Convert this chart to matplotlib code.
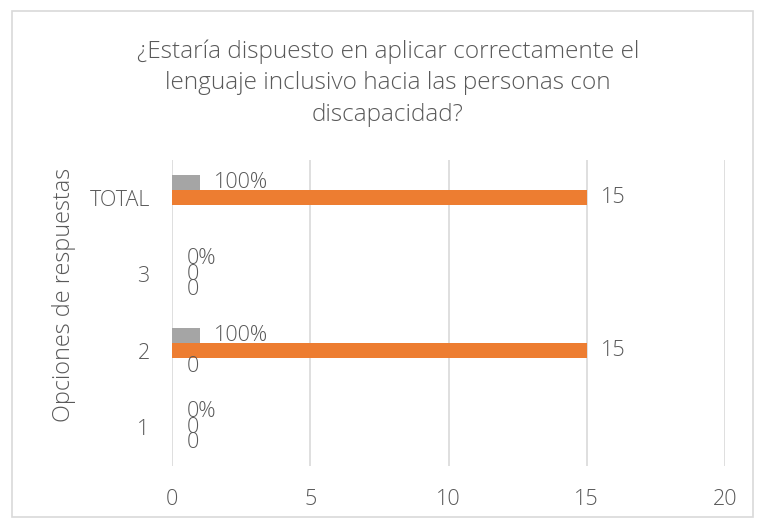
import matplotlib
matplotlib.use("Agg")
import matplotlib.pyplot as plt
from matplotlib.patches import Rectangle
import numpy as np

categories = ["1", "2", "3", "TOTAL"]
serie_base = [0, 0, 0, None]          # bottom series (all zero)
frecuencia = [0, 15, 0, 15]           # orange
porcentaje = [0, 1, 0, 1]             # gray (1 = 100%)
x_ticks = [0, 5, 10, 15, 20]

title = "¿Estaría dispuesto en aplicar correctamente el\nlenguaje inclusivo hacia las personas con\ndiscapacidad?"
ylabel = "Opciones de respuestas"

plt.rcParams['font.family'] = ['Open Sans', 'DejaVu Sans']
txt = "#595959"

W, H = 763, 520
fig = plt.figure(figsize=(W / 100, H / 100), dpi=100)
fig.patch.set_facecolor("white")

# chart border
fig.add_artist(Rectangle((12 / W, 1 - 517 / H), (753 - 12) / W, (517 - 11) / H,
                         transform=fig.transFigure, fill=False,
                         edgecolor="#D9D9D9", linewidth=1.2))

ax = fig.add_axes([172 / W, 1 - 465.5 / H, (725 - 172) / W, (465.5 - 159.5) / H])
ax.set_xlim(0, 20)
ax.set_ylim(-0.5, 3.5)

y = np.arange(len(categories))
h = 0.2
series = [
    (serie_base, -h, "#4472C4", "num"),
    (frecuencia, 0.0, "#ED7D31", "num"),
    (porcentaje, h, "#A5A5A5", "pct"),
]
for vals, off, col, kind in series:
    for yi, v in zip(y, vals):
        if v is None:
            continue
        ax.barh(yi + off, v, height=h, color=col, zorder=3)
        label = f"{v:.0%}" if kind == "pct" else f"{v:g}"
        ax.annotate(label, xy=(v, yi + off), xytext=(10.5, 0),
                    textcoords="offset points", ha="left", va="center",
                    fontsize=15.5, fontweight="light", color=txt, zorder=4)

ax.set_xticks(x_ticks)
ax.set_yticks(y)
ax.set_yticklabels(categories)
ax.grid(axis="x", color="#D9D9D9", linewidth=1.2, zorder=0)
ax.set_axisbelow(True)
for s in ax.spines.values():
    s.set_visible(False)
ax.tick_params(axis="both", length=0, labelsize=15.5, labelcolor=txt)
for lab in ax.get_xticklabels() + ax.get_yticklabels():
    lab.set_fontweight("light")
ax.tick_params(axis="x", pad=17)
ax.tick_params(axis="y", pad=16)

fig.text(388 / W, 1 - 83 / H, title, ha="center", va="center",
         fontsize=17.6, fontweight="light", color=txt, linespacing=1.42)
fig.text(64 / W, 1 - 295 / H, ylabel, rotation=90, ha="center", va="center",
         fontsize=16.8, fontweight="light", color=txt)

fig.savefig("out.png", dpi=100, facecolor="white")
